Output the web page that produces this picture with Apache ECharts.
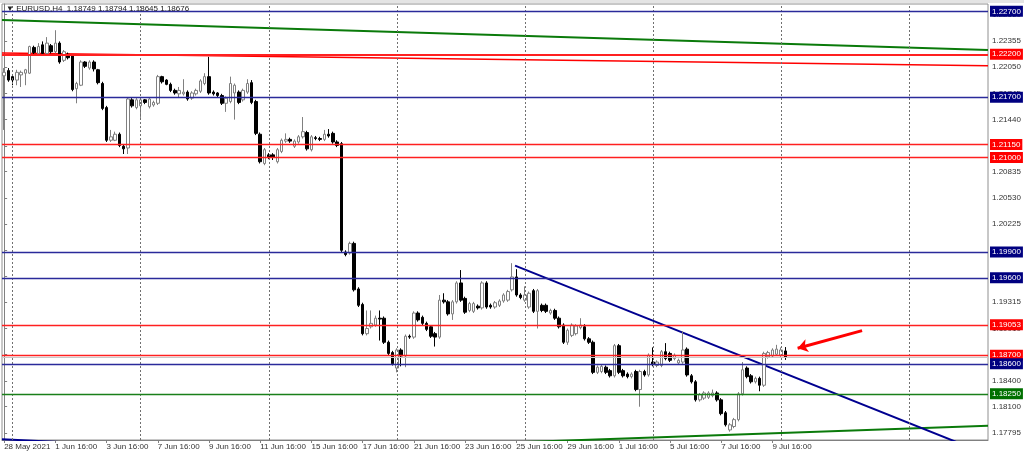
<!DOCTYPE html>
<html>
<head>
<meta charset="utf-8">
<style>
  html, body { margin: 0; padding: 0; background: #fff; }
  #chart { width: 1024px; height: 456px; }
</style>
<script src="https://cdn.jsdelivr.net/npm/echarts@6/dist/echarts.min.js"></script>
</head>
<body>
<div id="chart"></div>
<script>
// EURUSD H4, [open, close, low, high] per bar, first bar 28 May 2021 16:00
const candles = [
  [1.2195, 1.2199, 1.2132, 1.2204], [1.2201, 1.2190, 1.2188, 1.2204], [1.2194, 1.2190, 1.2184, 1.2196], [1.2190, 1.2199, 1.2184, 1.2202],
  [1.2196, 1.2199, 1.2182, 1.2201], [1.2198, 1.2202, 1.2184, 1.2203], [1.2198, 1.2229, 1.2197, 1.2230], [1.2228, 1.2222, 1.2220, 1.2230],
  [1.2221, 1.2229, 1.2219, 1.2233], [1.2231, 1.2221, 1.2220, 1.2235], [1.2221, 1.2233, 1.2219, 1.2240], [1.2230, 1.2223, 1.2221, 1.2232],
  [1.2223, 1.2233, 1.2221, 1.2248], [1.2233, 1.2211, 1.2209, 1.2235], [1.2213, 1.2223, 1.2211, 1.2225], [1.2220, 1.2216, 1.2214, 1.2222],
  [1.2218, 1.2179, 1.2177, 1.2220], [1.2180, 1.2186, 1.2163, 1.2188], [1.2184, 1.2211, 1.2183, 1.2213], [1.2211, 1.2206, 1.2204, 1.2212],
  [1.2204, 1.2211, 1.2202, 1.2213], [1.2211, 1.2203, 1.2200, 1.2213], [1.2202, 1.2187, 1.2185, 1.2203], [1.2186, 1.2157, 1.2155, 1.2188],
  [1.2158, 1.2120, 1.2118, 1.2160], [1.2120, 1.2124, 1.2118, 1.2132], [1.2120, 1.2127, 1.2119, 1.2130], [1.2127, 1.2114, 1.2112, 1.2129],
  [1.2113, 1.2110, 1.2104, 1.2115], [1.2111, 1.2168, 1.2104, 1.2170], [1.2167, 1.2160, 1.2158, 1.2169], [1.2158, 1.2167, 1.2156, 1.2169],
  [1.2160, 1.2167, 1.2146, 1.2168], [1.2167, 1.2164, 1.2162, 1.2168], [1.2159, 1.2168, 1.2157, 1.2170], [1.2161, 1.2164, 1.2159, 1.2166],
  [1.2163, 1.2194, 1.2161, 1.2196], [1.2194, 1.2188, 1.2186, 1.2195], [1.2190, 1.2185, 1.2184, 1.2191], [1.2185, 1.2178, 1.2176, 1.2187],
  [1.2178, 1.2175, 1.2173, 1.2180], [1.2174, 1.2178, 1.2170, 1.2182], [1.2174, 1.2176, 1.2172, 1.2191], [1.2176, 1.2168, 1.2166, 1.2178],
  [1.2169, 1.2175, 1.2167, 1.2177], [1.2174, 1.2178, 1.2172, 1.2180], [1.2177, 1.2189, 1.2175, 1.2191], [1.2186, 1.2194, 1.2184, 1.2198],
  [1.2194, 1.2175, 1.2173, 1.2217], [1.2176, 1.2174, 1.2172, 1.2178], [1.2175, 1.2172, 1.2170, 1.2176], [1.2172, 1.2163, 1.2161, 1.2174],
  [1.2163, 1.2169, 1.2153, 1.2171], [1.2165, 1.2186, 1.2163, 1.2194], [1.2175, 1.2184, 1.2144, 1.2186], [1.2176, 1.2164, 1.2162, 1.2178],
  [1.2167, 1.2178, 1.2165, 1.2180], [1.2176, 1.2186, 1.2174, 1.2191], [1.2187, 1.2164, 1.2162, 1.2190], [1.2165, 1.2128, 1.2126, 1.2167],
  [1.2127, 1.2095, 1.2093, 1.2129], [1.2093, 1.2109, 1.2091, 1.2111], [1.2103, 1.2100, 1.2098, 1.2105], [1.2103, 1.2100, 1.2097, 1.2105],
  [1.2095, 1.2109, 1.2093, 1.2111], [1.2107, 1.2120, 1.2105, 1.2122], [1.2119, 1.2121, 1.2117, 1.2128], [1.2121, 1.2119, 1.2117, 1.2123],
  [1.2113, 1.2119, 1.2111, 1.2121], [1.2118, 1.2124, 1.2116, 1.2126], [1.2124, 1.2130, 1.2122, 1.2147], [1.2129, 1.2110, 1.2108, 1.2131],
  [1.2109, 1.2124, 1.2107, 1.2126], [1.2123, 1.2122, 1.2120, 1.2125], [1.2122, 1.2121, 1.2119, 1.2124], [1.2121, 1.2127, 1.2119, 1.2132],
  [1.2127, 1.2125, 1.2123, 1.2133], [1.2128, 1.2118, 1.2116, 1.2130], [1.2118, 1.2114, 1.2112, 1.2120], [1.2116, 1.1992, 1.1990, 1.2118],
  [1.1990, 1.1987, 1.1985, 1.1992], [1.1989, 1.2000, 1.1987, 1.2002], [1.2000, 1.1946, 1.1944, 1.2002], [1.1947, 1.1928, 1.1926, 1.1949],
  [1.1929, 1.1895, 1.1893, 1.1931], [1.1895, 1.1901, 1.1893, 1.1922], [1.1903, 1.1907, 1.1901, 1.1922], [1.1905, 1.1913, 1.1903, 1.1916],
  [1.1913, 1.1912, 1.1887, 1.1922], [1.1913, 1.1885, 1.1883, 1.1915], [1.1885, 1.1872, 1.1870, 1.1887], [1.1873, 1.1860, 1.1858, 1.1875],
  [1.1855, 1.1876, 1.1850, 1.1878], [1.1876, 1.1869, 1.1857, 1.1878], [1.1869, 1.1892, 1.1856, 1.1894], [1.1892, 1.1891, 1.1889, 1.1894],
  [1.1891, 1.1919, 1.1889, 1.1921], [1.1919, 1.1911, 1.1909, 1.1921], [1.1914, 1.1907, 1.1905, 1.1916], [1.1907, 1.1900, 1.1898, 1.1909],
  [1.1903, 1.1892, 1.1890, 1.1905], [1.1895, 1.1891, 1.1880, 1.1897], [1.1891, 1.1934, 1.1889, 1.1940], [1.1934, 1.1932, 1.1930, 1.1942],
  [1.1932, 1.1918, 1.1916, 1.1934], [1.1918, 1.1932, 1.1911, 1.1934], [1.1932, 1.1954, 1.1930, 1.1956], [1.1954, 1.1934, 1.1932, 1.1969],
  [1.1936, 1.1920, 1.1918, 1.1938], [1.1922, 1.1930, 1.1920, 1.1932], [1.1921, 1.1930, 1.1919, 1.1932], [1.1927, 1.1925, 1.1923, 1.1929],
  [1.1925, 1.1954, 1.1923, 1.1956], [1.1954, 1.1926, 1.1924, 1.1956], [1.1928, 1.1926, 1.1924, 1.1930], [1.1926, 1.1931, 1.1924, 1.1933],
  [1.1928, 1.1933, 1.1926, 1.1935], [1.1933, 1.1940, 1.1931, 1.1942], [1.1934, 1.1944, 1.1932, 1.1946], [1.1946, 1.1961, 1.1944, 1.1977],
  [1.1961, 1.1940, 1.1938, 1.1970], [1.1940, 1.1937, 1.1935, 1.1942], [1.1934, 1.1940, 1.1932, 1.1950], [1.1926, 1.1942, 1.1924, 1.1944],
  [1.1945, 1.1921, 1.1919, 1.1947], [1.1921, 1.1945, 1.1901, 1.1947], [1.1928, 1.1922, 1.1920, 1.1930], [1.1928, 1.1921, 1.1919, 1.1930],
  [1.1919, 1.1922, 1.1917, 1.1924], [1.1922, 1.1913, 1.1911, 1.1924], [1.1913, 1.1903, 1.1901, 1.1915], [1.1905, 1.1885, 1.1883, 1.1907],
  [1.1885, 1.1899, 1.1882, 1.1901], [1.1893, 1.1905, 1.1891, 1.1907], [1.1895, 1.1904, 1.1893, 1.1906], [1.1902, 1.1905, 1.1900, 1.1913],
  [1.1903, 1.1889, 1.1887, 1.1906], [1.1889, 1.1885, 1.1883, 1.1891], [1.1885, 1.1850, 1.1848, 1.1887], [1.1850, 1.1856, 1.1848, 1.1858],
  [1.1851, 1.1857, 1.1849, 1.1859], [1.1856, 1.1850, 1.1848, 1.1858], [1.1852, 1.1846, 1.1844, 1.1854], [1.1846, 1.1881, 1.1844, 1.1883],
  [1.1881, 1.1850, 1.1848, 1.1883], [1.1852, 1.1846, 1.1844, 1.1854], [1.1848, 1.1845, 1.1843, 1.1850], [1.1845, 1.1848, 1.1843, 1.1850],
  [1.1851, 1.1830, 1.1828, 1.1853], [1.1830, 1.1851, 1.1810, 1.1853], [1.1851, 1.1847, 1.1845, 1.1853], [1.1847, 1.1870, 1.1845, 1.1872],
  [1.1862, 1.1859, 1.1857, 1.1879], [1.1858, 1.1862, 1.1856, 1.1864], [1.1858, 1.1874, 1.1856, 1.1876], [1.1874, 1.1866, 1.1864, 1.1884],
  [1.1872, 1.1864, 1.1862, 1.1874], [1.1866, 1.1870, 1.1864, 1.1872], [1.1861, 1.1864, 1.1859, 1.1866], [1.1862, 1.1876, 1.1860, 1.1898],
  [1.1877, 1.1847, 1.1845, 1.1879], [1.1846, 1.1839, 1.1837, 1.1848], [1.1839, 1.1818, 1.1816, 1.1841], [1.1818, 1.1824, 1.1816, 1.1826],
  [1.1820, 1.1826, 1.1818, 1.1828], [1.1821, 1.1826, 1.1819, 1.1828], [1.1823, 1.1826, 1.1821, 1.1830], [1.1826, 1.1818, 1.1816, 1.1828],
  [1.1818, 1.1802, 1.1800, 1.1820], [1.1803, 1.1789, 1.1787, 1.1805], [1.1783, 1.1789, 1.1781, 1.1791], [1.1787, 1.1795, 1.1785, 1.1797],
  [1.1795, 1.1825, 1.1793, 1.1827], [1.1825, 1.1853, 1.1823, 1.1862], [1.1855, 1.1845, 1.1843, 1.1857], [1.1846, 1.1839, 1.1837, 1.1848],
  [1.1839, 1.1843, 1.1837, 1.1845], [1.1843, 1.1835, 1.1828, 1.1845], [1.1835, 1.1872, 1.1833, 1.1874], [1.1868, 1.1873, 1.1866, 1.1875],
  [1.1869, 1.1876, 1.1867, 1.1878], [1.1871, 1.1877, 1.1869, 1.1882], [1.1870, 1.1876, 1.1868, 1.1879], [1.18749, 1.18676, 1.18645, 1.18794]
]

const barCount = 231 // bars across the window, empty ones to the right
const xTickLabels = ['28 May 2021', '1 Jun 16:00', '3 Jun 16:00', '7 Jun 16:00', '9 Jun 16:00', '11 Jun 16:00', '15 Jun 16:00',
  '17 Jun 16:00', '21 Jun 16:00', '23 Jun 16:00', '25 Jun 16:00', '29 Jun 16:00', '1 Jul 16:00', '5 Jul 16:00', '7 Jul 16:00', '9 Jul 16:00']
const yTicks = [1.22660, 1.22355, 1.22050, 1.21745, 1.21440, 1.21135, 1.20835, 1.20530, 1.20225, 1.19920, 1.19620,
  1.19315, 1.19010, 1.18705, 1.18400, 1.18100, 1.17795]
const yMin = 1.17713
const yMax = 1.22785

const blueLevels = [1.22700, 1.21700, 1.19900, 1.19600, 1.18600]
const redLevels = [1.22200, 1.21150, 1.21000, 1.19053, 1.18700]
const greenLevels = [1.18250]
const bidPrice = 1.18676

// trend lines, [bar index, price]
const greenTopLine = [[-0.5, 1.22600], [230.5, 1.22250]]
const redSlopeLine = [[-0.5, 1.22215], [230.5, 1.22068]]
const blueDownLine = [[119.7, 1.19741], [223.5, 1.17682]]
const blueOldLine = [[-0.5, 1.17722], [16.1, 1.17682]]
const greenBottomLine = [[114, 1.17676], [230.5, 1.17878]]
const arrowFrom = [201.0, 1.18985]
const arrowTo = [185.9, 1.18780]

// bar times: H4, weekdays only
const months = ['Jan', 'Feb', 'Mar', 'Apr', 'May', 'Jun', 'Jul', 'Aug', 'Sep', 'Oct', 'Nov', 'Dec']
const categories = []
const weekStarts = []
let t = Date.UTC(2021, 4, 28, 16)
for (let i = 0; i < barCount; i++)
{
  const d = new Date(t)
  const hh = String(d.getUTCHours()).padStart(2, '0')
  categories.push(d.getUTCDate() + ' ' + months[d.getUTCMonth()] + ' ' + hh + ':00')
  if (d.getUTCDay() === 1 && d.getUTCHours() === 0)
    weekStarts.push(i)
  do { t += 4 * 3600 * 1000 } while ([0, 6].includes(new Date(t).getUTCDay()))
}
categories[0] = xTickLabels[0]

const chart = echarts.init(document.getElementById('chart'), null, { renderer: 'canvas' })

function levelLine(price, color, tagColor, width)
{
  return {
    yAxis: price,
    lineStyle: { color: color, width: width, type: 'solid' },
    label: {
      show: true, position: 'end', distance: 2, formatter: price.toFixed(5),
      color: '#fff', backgroundColor: tagColor, fontSize: 8, padding: [2, 2, 1, 2]
    }
  }
}
function trend(data, color, width)
{
  return {
    type: 'line', xAxisIndex: 1, data: data, symbol: 'none', silent: true,
    animation: false, clip: true, lineStyle: { color: color, width: width }, z: 3
  }
}

const levels = [{ yAxis: bidPrice, lineStyle: { color: '#c8c8c8', width: 1, type: 'solid' }, label: { show: false } }]
  .concat(redLevels.map(p => levelLine(p, '#ff2020', '#ff0000', p === 1.222 ? 2.2 : 1.4)))
  .concat(blueLevels.map(p => levelLine(p, '#2a2a9a', '#000080', 1.4)))
  .concat(greenLevels.map(p => levelLine(p, '#1a7f1a', '#007000', 1.4)))
const weekLines = weekStarts.map(i => ({
  xAxis: i, lineStyle: { color: '#707070', width: 1, type: [2, 2] }, label: { show: false }
}))

const last = candles[candles.length - 1]

const option = {
  backgroundColor: '#fff',
  animation: false,
  textStyle: { fontFamily: 'Liberation Sans' },
  grid: { left: 2, right: 36, top: 4, bottom: 16, show: true, borderColor: '#909090', borderWidth: 1 },
  graphic: [
    { type: 'rect', left: 0, top: 0, shape: { width: 1024, height: 3 }, style: { fill: '#e4e4e4' }, silent: true },
    {
      type: 'text', left: 6, top: 5, silent: true, z: 100,
      style: {
        text: '\u25BC EURUSD,H4  ' + [last[0], last[3], last[2], last[1]].map(v => v.toFixed(5)).join(' '),
        fill: '#222', font: '8px "Liberation Sans"'
      }
    }
  ],
  xAxis: [
    {
      type: 'category', data: categories, boundaryGap: true,
      axisLine: { show: true, lineStyle: { color: '#808080' } },
      axisTick: { show: true, alignWithLabel: true, length: 3, interval: (i, v) => xTickLabels.includes(v), lineStyle: { color: '#808080' } },
      axisLabel: { interval: (i, v) => xTickLabels.includes(v), align: 'left', fontSize: 8, color: '#333', margin: 3 },
      splitLine: { show: false }
    },
    { type: 'value', min: -0.5, max: barCount - 0.5, show: false }
  ],
  yAxis: {
    type: 'value', position: 'right', min: yMin, max: yMax, scale: true,
    axisLine: { show: true, lineStyle: { color: '#808080' } },
    axisTick: { show: true, length: 3, customValues: yTicks, lineStyle: { color: '#808080' } },
    axisLabel: { customValues: yTicks, formatter: v => v.toFixed(5), fontSize: 8, color: '#333', margin: 4 },
    splitLine: { show: false }
  },
  series: [
    {
      type: 'candlestick', data: candles, barWidth: 3, z: 4,
      itemStyle: { color: '#ffffff', color0: '#000000', borderColor: '#808080', borderColor0: '#000000', borderWidth: 1 },
      markLine: { symbol: 'none', silent: true, animation: false, precision: 5, data: weekLines.concat(levels) }
    },
    trend(greenTopLine, '#0a7a0a', 2),
    trend(redSlopeLine, '#ff0000', 1.5),
    trend(blueOldLine, '#000090', 2),
    trend(greenBottomLine, '#0a7a0a', 2),
    Object.assign(trend(blueDownLine, '#000090', 2), {
      markLine: {
        symbol: ['none', 'arrow'], symbolSize: [10, 10], silent: true, animation: false, precision: 5,
        lineStyle: { color: '#ff0000', width: 3, type: 'solid' }, label: { show: false },
        data: [[{ coord: arrowFrom }, { coord: arrowTo }]]
      }
    })
  ]
}
chart.setOption(option)
</script>
</body>
</html>
